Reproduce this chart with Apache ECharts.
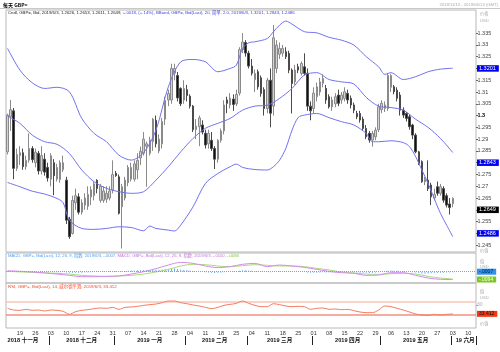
<!DOCTYPE html>
<html><head><meta charset="utf-8">
<script src="https://cdn.jsdelivr.net/npm/echarts@6/dist/echarts.min.js"></script>
<style>html,body{margin:0;padding:0;background:#fff}#c{width:500px;height:352px}</style>
</head><body><div id="c"></div>
<script>
const dates = [
'2018-11-13','2018-11-14','2018-11-15','2018-11-16','2018-11-19','2018-11-20','2018-11-21','2018-11-22','2018-11-23','2018-11-26','2018-11-27','2018-11-28','2018-11-29','2018-11-30',
'2018-12-03','2018-12-04','2018-12-05','2018-12-06','2018-12-07','2018-12-10','2018-12-11','2018-12-12','2018-12-13','2018-12-14','2018-12-17','2018-12-18','2018-12-19','2018-12-20','2018-12-21','2018-12-24','2018-12-25','2018-12-26','2018-12-27','2018-12-28','2018-12-31',
'2019-01-01','2019-01-02','2019-01-03','2019-01-04','2019-01-07','2019-01-08','2019-01-09','2019-01-10','2019-01-11','2019-01-14','2019-01-15','2019-01-16','2019-01-17','2019-01-18','2019-01-21','2019-01-22','2019-01-23','2019-01-24','2019-01-25','2019-01-28','2019-01-29','2019-01-30','2019-01-31',
'2019-02-01','2019-02-04','2019-02-05','2019-02-06','2019-02-07','2019-02-08','2019-02-11','2019-02-12','2019-02-13','2019-02-14','2019-02-15','2019-02-18','2019-02-19','2019-02-20','2019-02-21','2019-02-22','2019-02-25','2019-02-26','2019-02-27','2019-02-28',
'2019-03-01','2019-03-04','2019-03-05','2019-03-06','2019-03-07','2019-03-08','2019-03-11','2019-03-12','2019-03-13','2019-03-14','2019-03-15','2019-03-18','2019-03-19','2019-03-20','2019-03-21','2019-03-22','2019-03-25','2019-03-26','2019-03-27','2019-03-28','2019-03-29',
'2019-04-01','2019-04-02','2019-04-03','2019-04-04','2019-04-05','2019-04-08','2019-04-09','2019-04-10','2019-04-11','2019-04-12','2019-04-15','2019-04-16','2019-04-17','2019-04-18','2019-04-19','2019-04-22','2019-04-23','2019-04-24','2019-04-25','2019-04-26','2019-04-29','2019-04-30',
'2019-05-01','2019-05-02','2019-05-03','2019-05-06','2019-05-07','2019-05-08','2019-05-09','2019-05-10','2019-05-13','2019-05-14','2019-05-15','2019-05-16','2019-05-17','2019-05-20','2019-05-21','2019-05-22','2019-05-23','2019-05-24','2019-05-27','2019-05-28','2019-05-29','2019-05-30','2019-05-31',
'2019-06-03','2019-06-04','2019-06-05','2019-06-06','2019-06-07','2019-06-10','2019-06-11','2019-06-12'];

const opens = [
1.2846,1.2995,1.3020,1.2776,1.2830,1.2842,1.2783,1.2811,1.2860,1.2800,
1.2840,1.2765,1.2815,1.2780,1.2730,1.2800,1.2730,1.2728,1.2770,1.2726,
1.2560,1.2500,1.2630,1.2655,1.2590,1.2620,1.2615,1.2655,1.2660,1.2725,
1.2640,1.2640,1.2645,1.2650,1.2685,1.2755,1.2740,1.2613,1.2650,1.2715,
1.2730,1.2730,1.2770,1.2820,1.2840,1.2870,1.2840,1.2890,1.2980,1.2850,
1.2880,1.2985,1.3066,1.3066,1.3180,1.3170,1.3115,1.3066,1.3110,1.3082,
1.3040,1.2940,1.2953,1.2960,1.2925,1.2880,1.2895,1.2860,1.2815,1.2895,
1.2935,1.3066,1.3045,1.3070,1.3050,1.3095,1.3280,1.3310,1.3265,1.3210,
1.3152,1.3186,1.3160,1.3110,1.3030,1.3150,1.3040,1.3200,1.3260,1.3265,
1.3271,1.3264,1.3193,1.3143,1.3207,1.3179,1.3207,1.3180,1.3040,1.3030,
1.3080,1.3100,1.3137,1.3115,1.3080,1.3037,1.3050,1.3087,1.3066,1.3073,
1.3094,1.3073,1.3045,1.3009,1.3009,1.2985,1.2945,1.2925,1.2896,1.2910,
1.2940,1.3025,1.3030,1.3030,1.3120,1.3122,1.3108,1.3087,1.3023,1.3009,
1.2995,1.2960,1.2917,1.2846,1.2804,1.2719,1.2726,1.2705,1.2650,1.2698,
1.2670,1.2690,1.2660,1.2625,1.2626];
const highs = [
1.3008,1.3066,1.3032,1.2860,1.2870,1.2860,1.2830,1.2924,1.2870,1.2860,
1.2850,1.2870,1.2840,1.2800,1.2840,1.2815,1.2795,1.2810,1.2830,1.2740,
1.2570,1.2660,1.2690,1.2670,1.2645,1.2670,1.2700,1.2700,1.2720,1.2730,
1.2710,1.2700,1.2700,1.2700,1.2810,1.2765,1.2750,1.2710,1.2740,1.2790,
1.2800,1.2810,1.2840,1.2868,1.2930,1.2890,1.2910,1.2990,1.3000,1.2920,
1.2990,1.3080,1.3110,1.3220,1.3220,1.3185,1.3120,1.3150,1.3130,1.3090,
1.3045,1.2985,1.3000,1.2980,1.2940,1.2940,1.2930,1.2870,1.2900,1.2945,
1.3065,1.3080,1.3095,1.3090,1.3110,1.3290,1.3350,1.3320,1.3275,1.3240,
1.3195,1.3195,1.3170,1.3120,1.3160,1.3200,1.3384,1.3320,1.3310,1.3300,
1.3290,1.3275,1.3200,1.3215,1.3220,1.3230,1.3264,1.3200,1.3060,1.3120,
1.3140,1.3160,1.3175,1.3130,1.3090,1.3080,1.3095,1.3110,1.3100,1.3120,
1.3110,1.3085,1.3055,1.3020,1.3020,1.2995,1.2960,1.2935,1.2935,1.2950,
1.3050,1.3065,1.3060,1.3180,1.3176,1.3130,1.3120,1.3100,1.3035,1.3015,
1.3005,1.2965,1.2925,1.2850,1.2810,1.2740,1.2810,1.2715,1.2690,1.2720,
1.2710,1.2700,1.2670,1.2650,1.2653];
const lows = [
1.2835,1.2935,1.2730,1.2765,1.2790,1.2770,1.2770,1.2800,1.2800,1.2780,
1.2750,1.2750,1.2745,1.2720,1.2700,1.2662,1.2720,1.2715,1.2760,1.2540,
1.2477,1.2495,1.2600,1.2580,1.2580,1.2600,1.2600,1.2620,1.2640,1.2670,
1.2630,1.2630,1.2630,1.2640,1.2670,1.2740,1.2580,1.2436,1.2640,1.2700,
1.2720,1.2720,1.2730,1.2790,1.2830,1.2698,1.2830,1.2850,1.2865,1.2840,
1.2860,1.2960,1.3040,1.3050,1.3150,1.3060,1.3040,1.3050,1.3060,1.3030,
1.2930,1.2900,1.2870,1.2920,1.2860,1.2860,1.2850,1.2773,1.2800,1.2885,
1.2920,1.3010,1.3030,1.3020,1.3040,1.3085,1.3265,1.3250,1.3200,1.3170,
1.3100,1.3110,1.3080,1.3000,1.3010,1.2950,1.3000,1.3180,1.3240,1.3250,
1.3240,1.3180,1.3009,1.3130,1.3180,1.3170,1.3170,1.3020,1.2980,1.3010,
1.3060,1.3085,1.3120,1.3050,1.3030,1.3020,1.3035,1.3040,1.3050,1.3060,
1.3050,1.3030,1.3010,1.2985,1.2970,1.2935,1.2900,1.2885,1.2868,1.2895,
1.2930,1.3010,1.3015,1.3020,1.3100,1.3090,1.3060,1.3000,1.2990,1.2975,
1.2940,1.2900,1.2840,1.2790,1.2715,1.2705,1.2680,1.2620,1.2640,1.2660,
1.2660,1.2630,1.2610,1.2580,1.2611];
const closes = [
1.3002,1.3025,1.2776,1.2835,1.2842,1.2783,1.2810,1.2860,1.2813,1.2845,
1.2765,1.2830,1.2760,1.2735,1.2830,1.2745,1.2780,1.2800,1.2800,1.2556,
1.2486,1.2640,1.2660,1.2590,1.2630,1.2650,1.2665,1.2685,1.2710,1.2690,
1.2700,1.2680,1.2670,1.2680,1.2750,1.2745,1.2585,1.2698,1.2726,1.2780,
1.2780,1.2795,1.2810,1.2848,1.2900,1.2880,1.2896,1.2985,1.2880,1.2900,
1.2975,1.3065,1.3094,1.3200,1.3200,1.3075,1.3050,1.3115,1.3085,1.3040,
1.2940,1.2955,1.2990,1.2930,1.2875,1.2925,1.2860,1.2815,1.2895,1.2935,
1.3045,1.3052,1.3074,1.3047,1.3090,1.3280,1.3312,1.3265,1.3210,1.3180,
1.3179,1.3122,1.3094,1.3030,1.3150,1.3010,1.3330,1.3299,1.3285,1.3285,
1.3250,1.3193,1.3136,1.3193,1.3193,1.3221,1.3179,1.3040,1.3020,1.3095,
1.3122,1.3143,1.3158,1.3066,1.3037,1.3066,1.3080,1.3052,1.3087,1.3101,
1.3066,1.3045,1.3023,1.2995,1.2981,1.2945,1.2910,1.2896,1.2924,1.2938,
1.3037,1.3052,1.3045,1.3170,1.3170,1.3101,1.3073,1.3023,1.3002,1.2988,
1.2953,1.2917,1.2846,1.2797,1.2719,1.2730,1.2690,1.2655,1.2665,1.2670,
1.2698,1.2641,1.2620,1.2610,1.2649];

const bbUpper = [[0,1.3285],[4,1.3193],[8,1.3139],[12,1.3115],[16,1.3120],[20,1.3101],[24,1.2988],[28,1.2924],[32,1.2889],[36,1.2832],[40,1.2811],[44,1.2842],[48,1.2938],[52,1.3122],[56,1.3228],[60,1.3238],[64,1.3228],[68,1.3186],[72,1.3200],[74,1.3214],[76,1.3285],[78,1.3309],[80,1.3313],[84,1.3327],[86,1.3356],[88,1.3384],[90,1.3401],[92,1.3388],[96,1.3356],[100,1.3351],[104,1.3332],[108,1.3320],[112,1.3299],[116,1.3250],[120,1.3207],[122,1.3175],[124,1.3182],[128,1.3153],[132,1.3165],[136,1.3186],[140,1.3197],[144,1.3201]];
const bbMiddle = [[0,1.2998],[4,1.2967],[8,1.2917],[12,1.2889],[16,1.2878],[20,1.2839],[24,1.2769],[28,1.2719],[32,1.2691],[36,1.2677],[40,1.2670],[44,1.2677],[48,1.2726],[52,1.2783],[56,1.2846],[60,1.2903],[64,1.2946],[68,1.2967],[72,1.2988],[76,1.3023],[80,1.3040],[84,1.3044],[88,1.3073],[92,1.3115],[96,1.3172],[100,1.3182],[104,1.3153],[108,1.3143],[112,1.3134],[116,1.3077],[120,1.3040],[124,1.3034],[128,1.3023],[132,1.2984],[136,1.2950],[140,1.2903],[144,1.2843]];
const bbLower = [[0,1.2716],[4,1.2698],[8,1.2679],[12,1.2667],[16,1.2648],[18,1.2630],[20,1.2556],[24,1.2521],[28,1.2517],[32,1.2521],[36,1.2528],[40,1.2525],[44,1.2511],[46,1.2531],[48,1.2521],[52,1.2514],[54,1.2510],[56,1.2535],[60,1.2613],[64,1.2712],[68,1.2754],[72,1.2783],[74,1.2794],[76,1.2780],[80,1.2771],[84,1.2769],[86,1.2783],[88,1.2811],[90,1.2861],[92,1.2938],[94,1.2992],[96,1.3002],[100,1.3009],[104,1.2991],[108,1.2974],[112,1.2960],[116,1.2924],[118,1.2889],[120,1.2889],[124,1.2893],[128,1.2885],[130,1.2868],[132,1.2825],[134,1.2769],[136,1.2712],[138,1.2648],[140,1.2585],[142,1.2535],[144,1.2486]];

const macdLine = [[0,0.0013],[8,-0.0004],[16,-0.0030],[20,-0.0047],[24,-0.0064],[28,-0.0064],[32,-0.0060],[36,-0.0055],[40,-0.0030],[44,0.0000],[48,0.0039],[52,0.0086],[56,0.0120],[60,0.0107],[64,0.0073],[68,0.0052],[72,0.0065],[76,0.0095],[80,0.0107],[84,0.0065],[88,0.0086],[92,0.0073],[96,0.0056],[100,0.0030],[104,0.0004],[108,-0.0013],[112,-0.0021],[116,-0.0047],[120,-0.0043],[124,-0.0013],[128,-0.0013],[132,-0.0047],[136,-0.0081],[140,-0.0098],[144,-0.0100]];
const signalLine = [[0,0.0004],[8,-0.0009],[16,-0.0021],[20,-0.0030],[24,-0.0047],[28,-0.0055],[32,-0.0060],[36,-0.0055],[40,-0.0047],[44,-0.0030],[48,-0.0004],[52,0.0030],[56,0.0073],[60,0.0095],[64,0.0090],[68,0.0073],[72,0.0065],[76,0.0077],[80,0.0090],[84,0.0082],[88,0.0073],[92,0.0073],[96,0.0065],[100,0.0043],[104,0.0022],[108,-0.0004],[112,-0.0017],[116,-0.0030],[120,-0.0034],[124,-0.0026],[128,-0.0021],[132,-0.0030],[136,-0.0060],[140,-0.0081],[144,-0.0094]];
const macdHist = [
0.0008,0.0008,0.0006,0.0005,0.0004,0.0003,0.0002,0.0001,
-0.0002,-0.0003,-0.0004,-0.0005,-0.0005,-0.0006,-0.0005,-0.0006,
-0.0006,-0.0006,-0.0005,-0.0010,-0.0015,-0.0014,-0.0013,-0.0014,-0.0013,-0.0011,-0.0009,-0.0006,-0.0004,
0.0001,0.0003,0.0004,0.0005,0.0006,0.0008,0.0008,0.0003,
0.0006,0.0009,0.0012,0.0014,0.0016,0.0018,0.0020,0.0022,0.0021,0.0022,0.0026,0.0024,0.0025,0.0028,0.0032,0.0034,
0.0040,0.0040,0.0034,0.0028,0.0026,0.0022,0.0017,0.0008,
0.0002,-0.0001,-0.0004,-0.0008,-0.0010,-0.0013,-0.0017,-0.0015,-0.0012,-0.0006,-0.0002,0.0001,
0.0004,0.0006,0.0012,0.0018,0.0018,0.0015,0.0012,0.0009,0.0005,0.0001,
-0.0004,-0.0005,-0.0007,0.0000,0.0004,0.0006,0.0006,0.0004,0.0001,-0.0003,-0.0002,-0.0003,-0.0002,-0.0004,
-0.0010,-0.0014,-0.0014,-0.0013,-0.0011,-0.0008,-0.0009,-0.0010,-0.0010,-0.0009,-0.0009,-0.0008,-0.0007,-0.0007,-0.0008,-0.0009,-0.0011,-0.0012,-0.0014,-0.0015,-0.0016,-0.0014,
-0.0011,-0.0008,0.0000,0.0005,0.0011,0.0014,0.0013,0.0011,0.0008,0.0005,
0.0002,-0.0002,-0.0006,-0.0011,-0.0016,-0.0022,-0.0022,-0.0022,-0.0021,-0.0018,-0.0016,-0.0014,-0.0013,-0.0011,-0.0009,-0.0007];

const rsiLine = [[0,50],[2,45],[4,44],[6,47],[8,44],[10,45],[12,42],[14,45],[16,44],[18,41],[20,32],[22,40],[24,44],[26,46],[28,49],[30,51],[32,50],[34,53],[36,47],[38,53],[40,54],[42,56],[44,59],[46,61],[48,63],[50,67],[52,72],[54,72],[56,67],[58,64],[60,60],[62,57],[64,53],[66,49],[68,53],[70,59],[72,62],[74,65],[76,72],[78,65],[80,59],[82,55],[84,55],[86,64],[88,61],[90,57],[92,55],[94,56],[96,55],[98,47],[100,50],[102,51],[104,47],[106,48],[108,46],[110,47],[112,43],[114,39],[116,37],[118,37],[120,45],[122,57],[124,55],[126,50],[128,45],[130,39],[132,33],[134,30],[136,29],[138,32],[140,30],[142,32],[144,33.412]];
const rsiLevels = [70, 30];

const priceTicks = [1.245,1.25,1.255,1.26,1.265,1.27,1.275,1.28,1.285,1.29,1.295,1.3,1.305,1.31,1.315,1.32,1.325,1.33,1.335];
const priceMarks = [['1.3201',1.3201,'#0000ee'],['1.2843',1.2843,'#0000ee'],['1.2649',1.2649,'#000000'],['1.2486',1.2486,'#0000ee']];
const macdMarks = [['-.0007',-0.0007,'#2e90f0','#001a40'],['-.0094',-0.0094,'#7cc81e','#ffffff']];
const rsiMark = ['33.412',33.412];

const monthStartIdx = [14,35,58,78,99,121,144];
const monthLabelIdx = [5,24,46,67,88,110,132,148];
const monthLabelText = ['2018 十一月','2018 十二月','2019 一月','2019 二月','2019 三月','2019 四月','2019 五月','19 六月'];

const FONT = '"Liberation Sans", Arial, "Noto Sans CJK SC", sans-serif';
const CLEAR = 'rgba(0,0,0,0)';
const chart = echarts.init(document.getElementById('c'), null, {renderer:'canvas'});
const candleData = opens.map((o,i)=>[o, closes[i], lows[i], highs[i]]);
const isMonday = v => new Date(v+'T00:00:00Z').getUTCDay() === 1;
const hiddenX = (g)=>({type:'category', gridIndex:g, data:dates, boundaryGap:true, axisLine:{show:false}, axisTick:{show:false}, axisLabel:{show:false}, splitLine:{show:false}});

const option = {
  animation:false,
  backgroundColor:'#ffffff',
  title:[
    {text:'{k|Cndl, GBP=, Bid, 2019/6/3, 1.2626, 1.2653, 1.2611, 1.2649, }{b|+.0018, (+.14%), BBand, GBP=, Bid(Last), 20, 简单, 2.0, 2019/6/3, 1.3201, 1.2843, 1.2486}',
     left:8, top:11, padding:0,
     textStyle:{fontSize:4.3, fontFamily:FONT, fontWeight:'normal', rich:{k:{color:'#222', fontSize:4.3, fontFamily:FONT}, b:{color:'#3c3ce6', fontSize:4.3, fontFamily:FONT}}}},
    {text:'{a|MACD, GBP=, Bid(Last), 12, 26, 9, 指数, 2019/6/3, -.0007, }{p|MACD, GBP=, Bid(Last), 12, 26, 9, 指数, 2019/6/3, -.0100, }{g|-.0094}',
     left:8, top:254, padding:0,
     textStyle:{fontSize:4.2, fontFamily:FONT, fontWeight:'normal', rich:{a:{color:'#4a9ef0', fontSize:4.2, fontFamily:FONT}, p:{color:'#c070e0', fontSize:4.2, fontFamily:FONT}, g:{color:'#78c030', fontSize:4.2, fontFamily:FONT}}}},
    {text:'RSI, GBP=, Bid(Last), 14, 威尔德平滑, 2019/6/3, 33.412', left:8, top:285, padding:0,
     textStyle:{fontSize:4.4, fontFamily:FONT, fontWeight:'normal', color:'#f04a28'}}
  ],
  graphic:[
    {type:'text', x:3, y:2.5, style:{text:'每天 GBP=', font:'bold 5px "Noto Sans CJK SC", sans-serif', fill:'#000'}},
    {type:'text', x:498, y:3, style:{text:'2018/11/13 - 2019/06/13 (GMT)', font:'4.2px '+FONT, fill:'#aaaaaa', textAlign:'right'}},
    {type:'line', shape:{x1:0, y1:8.5, x2:500, y2:8.5}, style:{stroke:'#c8c8c8', lineWidth:1}},
    {type:'text', x:480, y:12, style:{text:'价格', font:'4.2px '+FONT, fill:'#aaaaaa'}},
    {type:'text', x:480, y:19, style:{text:'USD', font:'4.2px '+FONT, fill:'#aaaaaa'}},
    {type:'text', x:480, y:249, style:{text:'价值', font:'4.2px '+FONT, fill:'#aaaaaa'}},
    {type:'text', x:480, y:260, style:{text:'值', font:'4.2px '+FONT, fill:'#aaaaaa'}},
    {type:'text', x:480, y:265, style:{text:'USD', font:'4.2px '+FONT, fill:'#aaaaaa'}},
    {type:'text', x:480, y:290, style:{text:'值', font:'4.2px '+FONT, fill:'#aaaaaa'}},
    {type:'text', x:480, y:296, style:{text:'USD', font:'4.2px '+FONT, fill:'#aaaaaa'}},
    {type:'text', x:480, y:322, style:{text:'价值', font:'4.2px '+FONT, fill:'#aaaaaa'}}
  ],
  grid:[
    {left:6, right:24, top:10, height:242, show:true, borderColor:'#b8b8b8', borderWidth:1},
    {left:6, right:24, top:253, height:30, show:true, borderColor:'#b8b8b8', borderWidth:1},
    {left:6, right:24, top:283, height:45, show:true, borderColor:'#b8b8b8', borderWidth:1}
  ],
  xAxis:[
    hiddenX(0), hiddenX(1),
    {type:'category', gridIndex:2, data:dates, boundaryGap:true, axisLine:{show:false}, axisTick:{show:false}, splitLine:{show:false},
     axisLabel:{show:true, interval:(i,v)=>isMonday(v), formatter:v=>v.slice(8), fontSize:5.5, fontFamily:FONT, color:'#333', margin:3}},
    {type:'category', gridIndex:2, data:dates, boundaryGap:true, position:'bottom', offset:8, axisLine:{show:false}, splitLine:{show:false},
     axisTick:{show:true, interval:(i)=>monthStartIdx.includes(i), length:9, lineStyle:{color:'#222', width:1}},
     axisLabel:{show:true, interval:(i)=>monthLabelIdx.includes(i), formatter:(v,i)=>{const k=monthLabelIdx.indexOf(i); return k>=0?monthLabelText[k]:'';}, fontSize:5.6, fontWeight:'bold', fontFamily:FONT, color:'#111', margin:2}}
  ],
  yAxis:[
    {type:'value', gridIndex:0, position:'right', min:1.2421, max:1.3448, splitLine:{show:false}, axisLine:{show:false},
     axisTick:{show:true, length:2, customValues:priceTicks, lineStyle:{color:'#666'}},
     axisLabel:{customValues:priceTicks, margin:1.5, fontSize:5.5, fontFamily:FONT, color:'#444',
       formatter:v=>{const s=String(+(+v).toFixed(3)); return Math.abs(v-1.3)<1e-9?'{b|'+s+'}':s;}, rich:{b:{fontWeight:'bold', color:'#000', fontSize:5.5, fontFamily:FONT}}}},
    {type:'value', gridIndex:1, position:'right', min:-0.0145, max:0.024, splitLine:{show:false}, axisLine:{show:false}, axisTick:{show:false}, axisLabel:{show:false}},
    {type:'value', gridIndex:2, position:'right', min:-9.1, max:126.2, splitLine:{show:false}, axisLine:{show:false},
     axisTick:{show:true, length:2, customValues:[60], lineStyle:{color:'#aaa'}},
     axisLabel:{customValues:[60], margin:1.5, fontSize:4.5, fontFamily:FONT, color:'#aaa'}}
  ],
  series:[
    {type:'candlestick', xAxisIndex:0, yAxisIndex:0, data:candleData, barWidth:2, z:3,
     itemStyle:{color:'#d2d2d2', color0:'#111111', borderColor:'#8a8a8a', borderColor0:'#4a4a4a', borderWidth:1},
     markLine:{silent:true, symbol:'none', animation:false, z:10, lineStyle:{color:CLEAR, width:1},
       label:{show:true, position:'end', distance:1, fontSize:5.5, fontFamily:FONT, padding:[1,3,0,2], color:'#fff', formatter:'{b}'},
       data:priceMarks.map(m=>({name:m[0], yAxis:m[1], label:{backgroundColor:m[2]}}))}},
    {type:'line', xAxisIndex:0, yAxisIndex:0, data:bbUpper, showSymbol:false, smooth:0.3, z:4, lineStyle:{color:'#7272f0', width:1}},
    {type:'line', xAxisIndex:0, yAxisIndex:0, data:bbMiddle, showSymbol:false, smooth:0.3, z:4, lineStyle:{color:'#7272f0', width:1}},
    {type:'line', xAxisIndex:0, yAxisIndex:0, data:bbLower, showSymbol:false, smooth:0.3, z:4, lineStyle:{color:'#7272f0', width:1}},
    {type:'bar', xAxisIndex:1, yAxisIndex:1, data:macdHist, barWidth:1, itemStyle:{color:'#62a8f4'},
     markLine:{silent:true, symbol:'none', animation:false, z:10, label:{show:false}, lineStyle:{type:'dotted', color:'#6aa8f0', width:1}, data:[{yAxis:0}]}},
    {type:'line', xAxisIndex:1, yAxisIndex:1, data:signalLine, showSymbol:false, smooth:0.3, lineStyle:{color:'#a8dc78', width:1}},
    {type:'line', xAxisIndex:1, yAxisIndex:1, data:macdLine, showSymbol:false, smooth:0.3, lineStyle:{color:'#d68af0', width:1},
     markLine:{silent:true, symbol:'none', animation:false, z:10, lineStyle:{color:CLEAR, width:1},
       label:{show:true, position:'end', distance:1, fontSize:5, fontFamily:FONT, padding:[1,3,0,2], formatter:'{b}'},
       data:macdMarks.map(m=>({name:m[0], yAxis:m[1], label:{backgroundColor:m[2], color:m[3]}}))}},
    {type:'line', xAxisIndex:2, yAxisIndex:2, data:rsiLine, showSymbol:false, smooth:0.3, z:3, lineStyle:{color:'#f47c5e', width:1},
     markLine:{silent:true, symbol:'none', animation:false, z:1,
       label:{show:false},
       data:[{yAxis:rsiLevels[0], lineStyle:{color:'#f9c6b8', width:1.5, type:'solid'}},
             {yAxis:rsiLevels[1], lineStyle:{color:'#f29080', width:1.5, type:'solid'}},
             {name:rsiMark[0], yAxis:rsiMark[1], lineStyle:{color:CLEAR, width:1}, label:{show:true, position:'end', distance:1, formatter:'{b}', fontSize:5, fontFamily:FONT, padding:[1,3,0,2], color:'#111', backgroundColor:'#f03a14'}}]}}
  ]
};
chart.setOption(option);
</script>
</body></html>
